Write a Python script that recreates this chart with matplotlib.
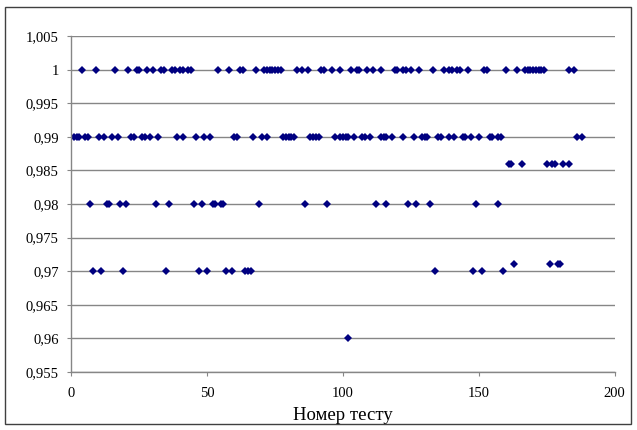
import matplotlib
matplotlib.use("Agg")
import matplotlib.pyplot as plt
from matplotlib.patches import Rectangle
from matplotlib.ticker import FuncFormatter, MultipleLocator

# Test numbers grouped by the measured value
x_100 = [4, 9, 16, 21, 24, 25, 28, 30, 33, 34, 37, 38, 40, 41, 43, 44, 54, 58,
         62, 63, 68, 71, 72, 73, 74, 75, 76, 77, 83, 85, 87, 92, 93, 96, 99,
         103, 105, 106, 109, 111, 114, 119, 120, 122, 123, 125, 128, 133, 137,
         139, 140, 142, 143, 146, 152, 153, 160, 164, 167, 168, 169, 170, 171,
         172, 173, 174, 183, 185]
x_099 = [1, 2, 3, 5, 6, 10, 12, 15, 17, 22, 23, 26, 27, 29, 32, 39, 41, 46,
         49, 51, 60, 61, 67, 70, 72, 78, 79, 80, 81, 82, 88, 89, 90, 91, 97,
         99, 100, 101, 102, 104, 107, 108, 110, 114, 115, 116, 118, 122, 126,
         129, 130, 131, 135, 136, 139, 141, 144, 145, 147, 150, 154, 155, 157,
         158, 186, 188]
x_0986 = [161, 162, 166, 175, 177, 178, 181, 183]
x_098 = [7, 13, 14, 18, 20, 31, 36, 45, 48, 52, 53, 55, 56, 69, 86, 94, 112,
         116, 124, 127, 132, 149, 157]
x_0971 = [163, 176, 179, 180]
x_097 = [8, 11, 19, 35, 47, 50, 57, 59, 64, 65, 66, 134, 148, 151, 159]
x_096 = [102]

groups = [
    (x_100, 1.0),
    (x_099, 0.99),
    (x_0986, 0.986),
    (x_098, 0.98),
    (x_0971, 0.971),
    (x_097, 0.97),
    (x_096, 0.96),
]

plt.rcParams["font.family"] = ["Liberation Serif", "DejaVu Serif"]

fig = plt.figure(figsize=(6.37, 4.30), dpi=100)
ax = fig.add_axes([0.112, 0.135, 0.853, 0.781])

marker_color = "#000080"
for xs, val in groups:
    ax.plot(xs, [val] * len(xs), linestyle="none", marker="D",
            markersize=4.2, color=marker_color, markeredgewidth=0)

ax.set_xlim(0, 200)
ax.set_ylim(0.955, 1.005)
ax.xaxis.set_major_locator(MultipleLocator(50))
ax.yaxis.set_major_locator(MultipleLocator(0.005))


def comma_fmt(v, pos):
    s = f"{v:.3f}".rstrip("0").rstrip(".")
    return s.replace(".", ",")


ax.yaxis.set_major_formatter(FuncFormatter(comma_fmt))
ax.xaxis.set_major_formatter(FuncFormatter(lambda v, p: f"{int(v)}"))

ax.grid(axis="y", color="#868686", linewidth=1.0)
ax.set_axisbelow(True)
for side in ("top", "right"):
    ax.spines[side].set_visible(False)
for side in ("left", "bottom"):
    ax.spines[side].set_color("#868686")
    ax.spines[side].set_linewidth(1.0)

ax.tick_params(axis="both", direction="out", length=3, color="#868686",
               labelsize=10.5, labelcolor="black")
ax.tick_params(axis="x", pad=8)
ax.tick_params(axis="y", pad=6)
ax.set_xlabel("Номер тесту", fontsize=13.5, labelpad=5)

# Chart frame
fig.patches.append(Rectangle((5 / 637, 6 / 430), 626 / 637, 417 / 430,
                             transform=fig.transFigure, fill=False,
                             edgecolor="#404040", linewidth=1.0))

fig.savefig("out.png", dpi=100)
